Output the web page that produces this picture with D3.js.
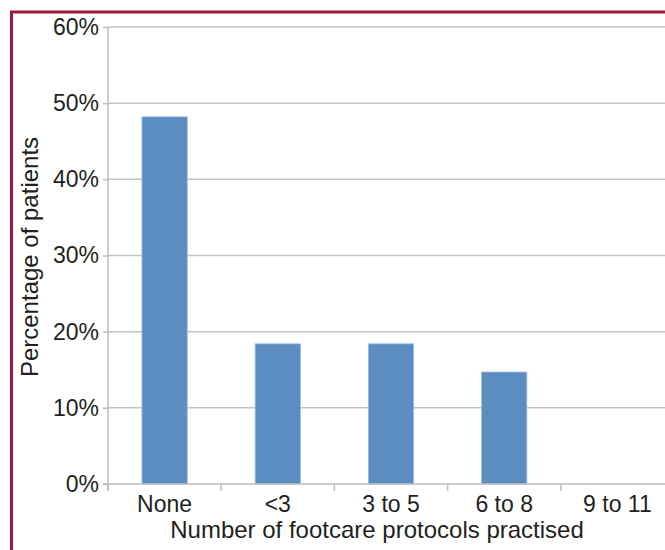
<html lang="en">
<head>
<meta charset="utf-8">
<title>Footcare protocols</title>
<style>
  body { margin: 0; background: white; font-family: Arial, "Liberation Sans", Helvetica, sans-serif; }
  .grid line { stroke: #c4c4c4; stroke-width: 1.5; }
  .axis path, .axis line { stroke: #bdbdbd; stroke-width: 1.5; fill: none; }
  .axis text { font-family: Arial, "Liberation Sans", sans-serif; font-size: 23px; fill: #231f20; }
  .bar { fill: #5c8dc1; stroke: #9dbbe0; stroke-width: 0.8; }
  .label { font-size: 24px; fill: #231f20; }
</style>
</head>
<body>
<script src="https://cdnjs.cloudflare.com/ajax/libs/d3/7.8.5/d3.min.js"></script>
<script>
var categories = ["None", "<3", "3 to 5", "6 to 8", "9 to 11"];
var values = [48.2, 18.4, 18.4, 14.7, 0];
var yTicks = [0, 10, 20, 30, 40, 50, 60];

var fullwidth = 665, fullheight = 550;
var margin = { top: 27, left: 108, bottom: 66 };
var plotRight = 674;
var height = fullheight - margin.top - margin.bottom;

var svg = d3.select("body").append("svg")
  .attr("width", fullwidth)
  .attr("height", fullheight);

// dark red frame (runs off the right and bottom edges)
svg.append("rect")
  .attr("x", 11.5).attr("y", 12)
  .attr("width", 700).attr("height", 600)
  .attr("fill", "none")
  .attr("stroke", "#9c1a3d")
  .attr("stroke-width", 3);

var g = svg.append("g")
  .attr("transform", "translate(" + margin.left + "," + margin.top + ")");

var xScale = d3.scaleBand()
  .domain(categories)
  .range([0, plotRight - margin.left])
  .paddingInner(0.6)
  .paddingOuter(0.3);

var yScale = d3.scaleLinear()
  .domain([0, 60])
  .range([height, 0]);

// gridlines
g.append("g").attr("class", "grid")
  .selectAll("line")
  .data(yTicks.slice(1))
  .enter().append("line")
  .attr("x1", 0).attr("x2", plotRight - margin.left)
  .attr("y1", function(d) { return yScale(d); })
  .attr("y2", function(d) { return yScale(d); });

// bars
g.selectAll("rect.bar")
  .data(values)
  .enter().append("rect")
  .attr("class", "bar")
  .attr("x", function(d, i) { return xScale(categories[i]); })
  .attr("width", xScale.bandwidth())
  .attr("y", function(d) { return yScale(d); })
  .attr("height", function(d) { return height - yScale(d); });

// y axis
var yAxis = d3.axisLeft(yScale)
  .tickValues(yTicks)
  .tickSize(5)
  .tickPadding(4)
  .tickFormat(function(d) { return d + "%"; });

g.append("g").attr("class", "axis")
  .call(yAxis)
  .call(function(s) { s.select(".domain").attr("d", "M0,0V" + (height + 6)); });

// x axis, ticks between categories
var xAxisG = g.append("g").attr("class", "axis")
  .attr("transform", "translate(0," + height + ")")
  .call(d3.axisBottom(xScale).tickSize(0).tickPadding(12));
xAxisG.select(".domain").attr("d", "M-5,0H" + (plotRight - margin.left));
xAxisG.selectAll(".sep")
  .data(d3.range(categories.length))
  .enter().append("line")
  .attr("class", "sep")
  .attr("x1", function(i) { return i * xScale.step(); })
  .attr("x2", function(i) { return i * xScale.step(); })
  .attr("y1", 0).attr("y2", 7);

// axis titles
svg.append("text")
  .attr("class", "label")
  .attr("x", 377).attr("y", 538)
  .attr("text-anchor", "middle")
  .text("Number of footcare protocols practised");

svg.append("text")
  .attr("class", "label")
  .attr("transform", "translate(38,257) rotate(-90)")
  .attr("text-anchor", "middle")
  .text("Percentage of patients");
</script>
</body>
</html>
